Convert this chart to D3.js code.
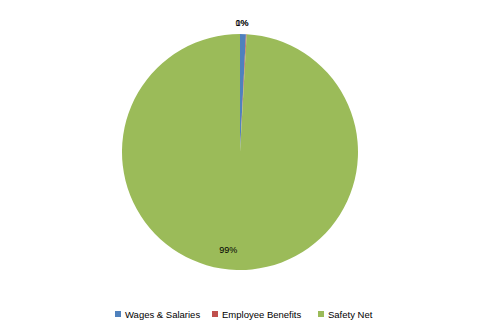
<!DOCTYPE html>
<html>
<head>
<meta charset="utf-8">
<script src="https://cdn.jsdelivr.net/npm/d3@7"></script>
<style>
  body { margin: 0; background: #fff; }
  text { font-family: "Liberation Sans", Arial, sans-serif; }
</style>
</head>
<body>
<div id="chart"></div>
<script>
const categories = ["Wages & Salaries", "Employee Benefits", "Safety Net"]
const values = [0.8, 0.1, 99.1]
const labels = ["1%", "0%", "99%"]
const colors = ["#4F81BD", "#C0504D", "#9BBB59"]

const width = 480
const height = 333
const cx = 240, cy = 152, radius = 118

const svg = d3.select("#chart")
    .append("svg")
    .attr("width", width)
    .attr("height", height)

const data = categories.map((c, i) => ({ name: c, value: values[i], label: labels[i], color: colors[i] }))

const pie = d3.pie()
    .value(d => d.value)
    .sort(null)

const arcs = pie(data)

const arc = d3.arc()
    .innerRadius(0)
    .outerRadius(radius)

const g = svg.append("g")
    .attr("transform", `translate(${cx},${cy})`)

g.selectAll("path")
    .data(arcs)
    .enter().append("path")
    .attr("d", arc)
    .attr("fill", d => d.data.color)

// small slices get labels outside, big one inside
const outerLabel = d3.arc().innerRadius(radius + 11).outerRadius(radius + 11)
const innerLabel = d3.arc().innerRadius(radius * 0.83).outerRadius(radius * 0.83)

g.selectAll(".lbl")
    .data(arcs)
    .enter().append("text")
    .attr("class", "lbl")
    .attr("transform", d => {
        const small = d.data.value < 5
        const [x, y] = small ? outerLabel.centroid(d) : innerLabel.centroid(d)
        return `translate(${small ? 2 : x - 9},${y})`
    })
    .attr("text-anchor", "middle")
    .attr("dy", "0.35em")
    .style("font-size", "9px")
    .attr("fill", "#000")
    .text(d => d.data.label)

// legend
const legendX = [115, 212, 318]
const legend = svg.selectAll(".legend")
    .data(data)
    .enter().append("g")
    .attr("class", "legend")
    .attr("transform", (d, i) => `translate(${legendX[i]},311)`)

legend.append("rect")
    .attr("width", 6)
    .attr("height", 6)
    .attr("fill", d => d.color)

legend.append("text")
    .attr("x", 10)
    .attr("y", 6.5)
    .style("font-size", "9.5px")
    .attr("fill", "#000")
    .text(d => d.name)
</script>
</body>
</html>
